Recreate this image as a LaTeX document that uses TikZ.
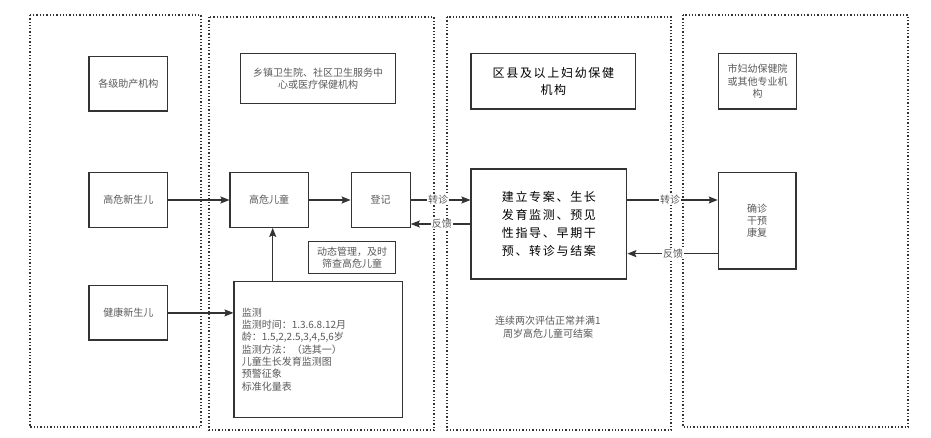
\documentclass[tikz,border=0pt]{standalone}
\usepackage{fontspec}
\newfontfamily\cjk{Noto Sans CJK SC}
\newfontfamily\cjkwide[LetterSpace=14]{Noto Sans CJK SC}
\usetikzlibrary{arrows.meta}
\definecolor{txtgray}{HTML}{5A5A5A}
\definecolor{linec}{HTML}{333333}
\tikzset{
  box/.style={draw=linec, line width=1.2pt, fill=white, inner sep=0pt, align=center,
    text=txtgray, font=\cjk\fontsize{10}{12.5}\selectfont},
  bigbox/.style={box, text=black, font=\cjkwide\fontsize{12}{18}\selectfont},
  zone/.style={draw=linec, line width=1.3pt, dash pattern=on 1.3pt off 2pt},
  arr/.style={draw=linec, line width=1.2pt, -{Stealth[length=9pt,width=7pt,inset=1.5pt]}},
  elabel/.style={fill=white, inner sep=0.8pt, text=txtgray, font=\cjk\fontsize{10}{12}\selectfont},
}
\begin{document}
\begin{tikzpicture}[x=1pt,y=-1pt]
\fill[white] (0,0) rectangle (931,438);
\useasboundingbox (0,0) rectangle (931,438);
% zones
\draw[zone] (30,15) rectangle (201,427);
\draw[zone] (209,17) rectangle (434,430);
\draw[zone] (447,17) rectangle (671,430);
\draw[zone] (683,15) rectangle (908,427);
% nodes
\node[box, minimum width=78.7, minimum height=54.3] (org1) at (128.4,83.9) {各级助产机构};
\node[box, minimum width=78.7, minimum height=54.6] (hnb) at (128.4,200) {高危新生儿};
\node[box, minimum width=78.7, minimum height=54.3] (nb) at (128.4,312.9) {健康新生儿};
\node[box, minimum width=155.4, minimum height=49.6] (org2) at (318,78.5) {乡镇卫生院、社区卫生服务中\\心或医疗保健机构};
\node[box, minimum width=78.3, minimum height=54.6] (child) at (269.2,200) {高危儿童};
\node[box, minimum width=59, minimum height=54.6] (reg) at (380.7,200) {登记};
\node[box, minimum width=87.4, minimum height=31.6] (dyn) at (352,257.5) {动态管理，及时\\筛查高危儿童};
\node[box, text width=153.3, inner sep=7.7, minimum height=135.6, align=left,
  font=\cjk\fontsize{10}{12.3}\selectfont] (mon) at (318.4,349.5)
  {监测\\监测时间：1.3.6.8.12月\\龄：1.5,2,2.5,3,4,5,6岁\\监测方法：（选其一）\\儿童生长发育监测图\\预警征象\\标准化量表};
\node[bigbox, minimum width=164.7, minimum height=55.3, font=\cjkwide\fontsize{12}{17.3}\selectfont] (org3) at (553.4,81.4) {区县及以上妇幼保健\\机构};
\node[bigbox, minimum width=155.7, minimum height=110] (main) at (548.9,224) {建立专案、生长\\发育监测、预见\\性指导、早期干\\预、转诊与结案};
\node[box, minimum width=78.4, minimum height=55.3, font=\cjk\fontsize{10}{12.5}\selectfont] (org4) at (757.5,81.4) {市妇幼保健院\\或其他专业机\\构};
\node[box, minimum width=77.7, minimum height=96.7, font=\cjk\fontsize{10}{11.7}\selectfont] (diag) at (757.2,220.7) {确诊\\干预\\康复};
\node[align=center, text=txtgray, inner sep=0pt, font=\cjk\fontsize{10}{13.3}\selectfont] (note) at (548,327.5) {连续两次评估正常并满1\\周岁高危儿童可结案};
% connectors
\draw[arr] (hnb.east) -- (child.west);
\draw[arr] (child.east) -- (reg.west);
\draw[arr] (reg.east) -- (reg.east -| main.west) node[elabel, pos=0.46] {转诊};
\draw[arr] (main.west) -- (main.west -| reg.east) node[elabel, pos=0.48] {反馈};
\draw[arr] (nb.east) -- (nb.east -| mon.west);
\draw[arr] ([xshift=3.5pt]child.south |- mon.north) -- ([xshift=3.5pt]child.south);
\draw[arr] (reg.east -| main.east) -- (reg.east -| diag.west) node[elabel, pos=0.473] {转诊};
\draw[arr] ([yshift=16pt]diag.south west) -- ([yshift=16pt]diag.south west -| main.east) node[elabel, pos=0.495] {反馈};
\end{tikzpicture}
\end{document}
